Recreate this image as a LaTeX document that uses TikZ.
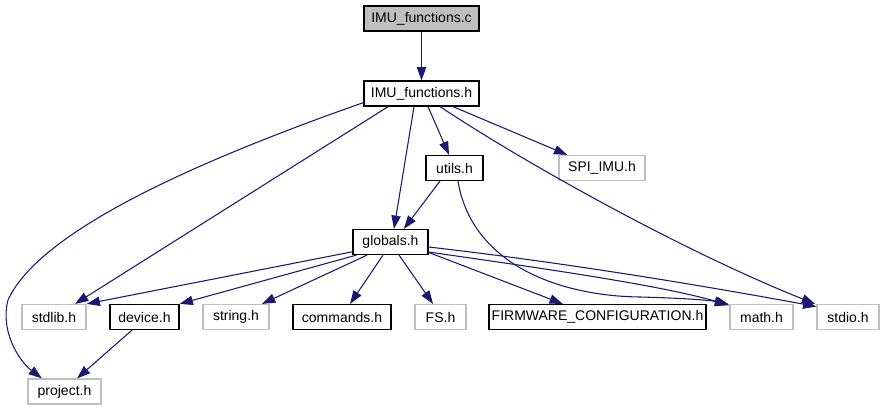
\documentclass[tikz,border=0pt]{standalone}
\usepackage{fontspec}
\setmainfont{Liberation Sans}
\usetikzlibrary{arrows.meta}
\definecolor{edgeblue}{HTML}{191970}
\definecolor{extgrey}{HTML}{BFBFBF}

\begin{document}
\begin{tikzpicture}[
  x=0.75pt,
  y=-0.75pt,
  every node/.style={font=\fontsize{10.5}{12}\selectfont, text=black},
  file/.style={draw=black, line width=0.9pt, minimum height=18.75pt,
               inner sep=0pt, fill=white},
  extfile/.style={file, draw=extgrey},
  mainfile/.style={file, fill=extgrey},
  dep/.style={edgeblue, line width=0.8pt,
              -{Triangle[length=10pt, width=7pt]}}
]
  % ---- page frame, same size as the 885 x 411 screenshot ----
  \useasboundingbox (0,0) rectangle (885,411);

  % ---- top rows ----
  \node[mainfile, minimum width=86.25pt] (imuc) at (421.5,18.5) {IMU\_functions.c};
  \node[file, minimum width=86.25pt] (imuh) at (421.5,93.5) {IMU\_functions.h};
  \node[file, minimum width=42.75pt] (utils) at (454.5,168) {utils.h};
  \node[extfile, minimum width=64.5pt] (spiimu) at (602,168) {SPI\_IMU.h};
  \node[file, minimum width=56.25pt] (globals) at (390.5,242) {globals.h};

  % ---- included headers ----
  \node[extfile, minimum width=48pt] (stdlib) at (54,317) {stdlib.h};
  \node[file, minimum width=51.75pt] (device) at (144.5,317) {device.h};
  \node[extfile, minimum width=49.5pt] (string) at (236,317) {string.h};
  \node[file, minimum width=73.5pt] (commands) at (342,317) {commands.h};
  \node[extfile, minimum width=38.25pt] (fs) at (440.5,317) {FS.h};
  \node[file, minimum width=162.75pt] (firmware) at (597.5,317) {FIRMWARE\_CONFIGURATION.h};
  \node[extfile, minimum width=47.25pt] (math) at (761.5,317) {math.h};
  \node[extfile, minimum width=46.5pt] (stdio) at (848,317) {stdio.h};
  \node[extfile, minimum width=54.75pt] (project) at (64.5,391.5) {project.h};

  % ---- edges out of IMU_functions.c / .h ----
  \draw[dep] (imuc) -- (imuh);
  \draw[dep] ([yshift=3pt]imuh.south west)
    .. controls (200,160) and (40,230) .. (8,300)
    .. controls (0,330) and (18,360) .. ([xshift=-17pt]project.north);
  \draw[dep] ([xshift=-25pt]imuh.south) -- ([xshift=15.75pt]stdlib.north);
  \draw[dep] ([xshift=-5.6pt]imuh.south) -- ([xshift=2.6pt]globals.north);
  \draw[dep] ([xshift=4.9pt]imuh.south) -- ([xshift=-4.1pt]utils.north);
  \draw[dep] ([xshift=23.6pt]imuh.south) -- ([xshift=-26pt]spiimu.north);
  \draw[dep] ([xshift=13.9pt]imuh.south)
    .. controls (520,160) and (680,250) .. ([xshift=-1pt]stdio.north west);

  % ---- edges out of utils.h ----
  \draw[dep] ([xshift=-10.9pt]utils.south) -- ([xshift=10pt]globals.north);
  \draw[dep] ([xshift=2.6pt]utils.south)
    .. controls (472,265) and (560,296) .. (640,297)
    .. controls (680,298) and (708,300) .. ([xshift=-1pt]math.north west);

  % ---- edges out of globals.h ----
  \draw[dep] ([yshift=2.5pt]globals.south west) -- (stdlib.north east);
  \draw[dep] ([xshift=3pt]globals.south west) -- (device.north east);
  \draw[dep] ([xshift=-17.6pt]globals.south) -- ([xshift=19.5pt]string.north);
  \draw[dep] ([xshift=-5.6pt]globals.south) -- ([xshift=6pt]commands.north);
  \draw[dep] ([xshift=6.4pt]globals.south) -- ([xshift=-5.6pt]fs.north);
  \draw[dep] ([yshift=2pt]globals.south east) -- ([xshift=-26pt]firmware.north);
  \draw[dep] ([yshift=-7.5pt]globals.east)
    .. controls (540,268) and (660,285) .. ([yshift=-1pt]math.north west);
  \draw[dep] ([yshift=-3.75pt]globals.east)
    .. controls (560,262) and (700,285) .. ([yshift=-2pt]stdio.north west);

  % ---- device.h ----
  \draw[dep] ([xshift=-9.4pt]device.south) -- ([xshift=9.4pt]project.north);
\end{tikzpicture}
\end{document}
